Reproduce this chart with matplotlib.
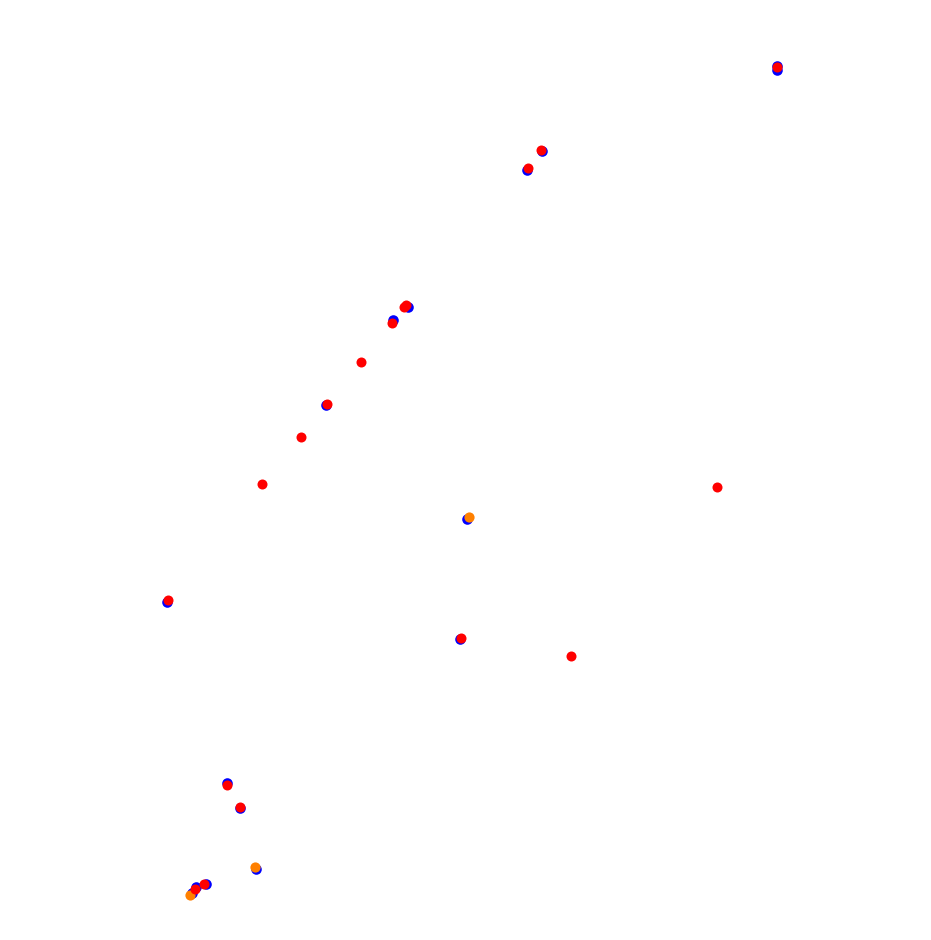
import matplotlib
matplotlib.use("Agg")
import matplotlib.pyplot as plt

# --- puntos (coordenadas del plano, y hacia abajo) ---
azul_x = [777, 777, 542, 527, 408, 393, 326, 467, 167, 460, 227, 240, 256, 192, 196, 206]
azul_y = [66, 70, 151, 170, 307, 320, 405, 519, 602, 639, 783, 808, 869, 893, 887, 884]

naranja_x = [469, 255, 190]
naranja_y = [517, 867, 895]

rojo_x = [777, 541, 528, 406, 404, 392, 361, 327, 301, 262, 717, 168, 461, 571, 227, 240, 195, 204]
rojo_y = [67, 150, 168, 305, 307, 323, 362, 404, 437, 484, 487, 600, 638, 656, 785, 807, 889, 884]

fig = plt.figure(figsize=(9.31, 9.40), dpi=100)
ax = fig.add_axes([0, 0, 1, 1])

ax.scatter(azul_x, azul_y, s=58, color="#0000ff", linewidths=0, zorder=1)
ax.scatter(naranja_x, naranja_y, s=54, color="#ff8000", linewidths=0, zorder=2)
ax.scatter(rojo_x, rojo_y, s=52, color="#ff0000", linewidths=0, zorder=3)

ax.set_xlim(0, 931)
ax.set_ylim(940, 0)
ax.axis("off")

fig.savefig("out.png", dpi=100, facecolor="white")
